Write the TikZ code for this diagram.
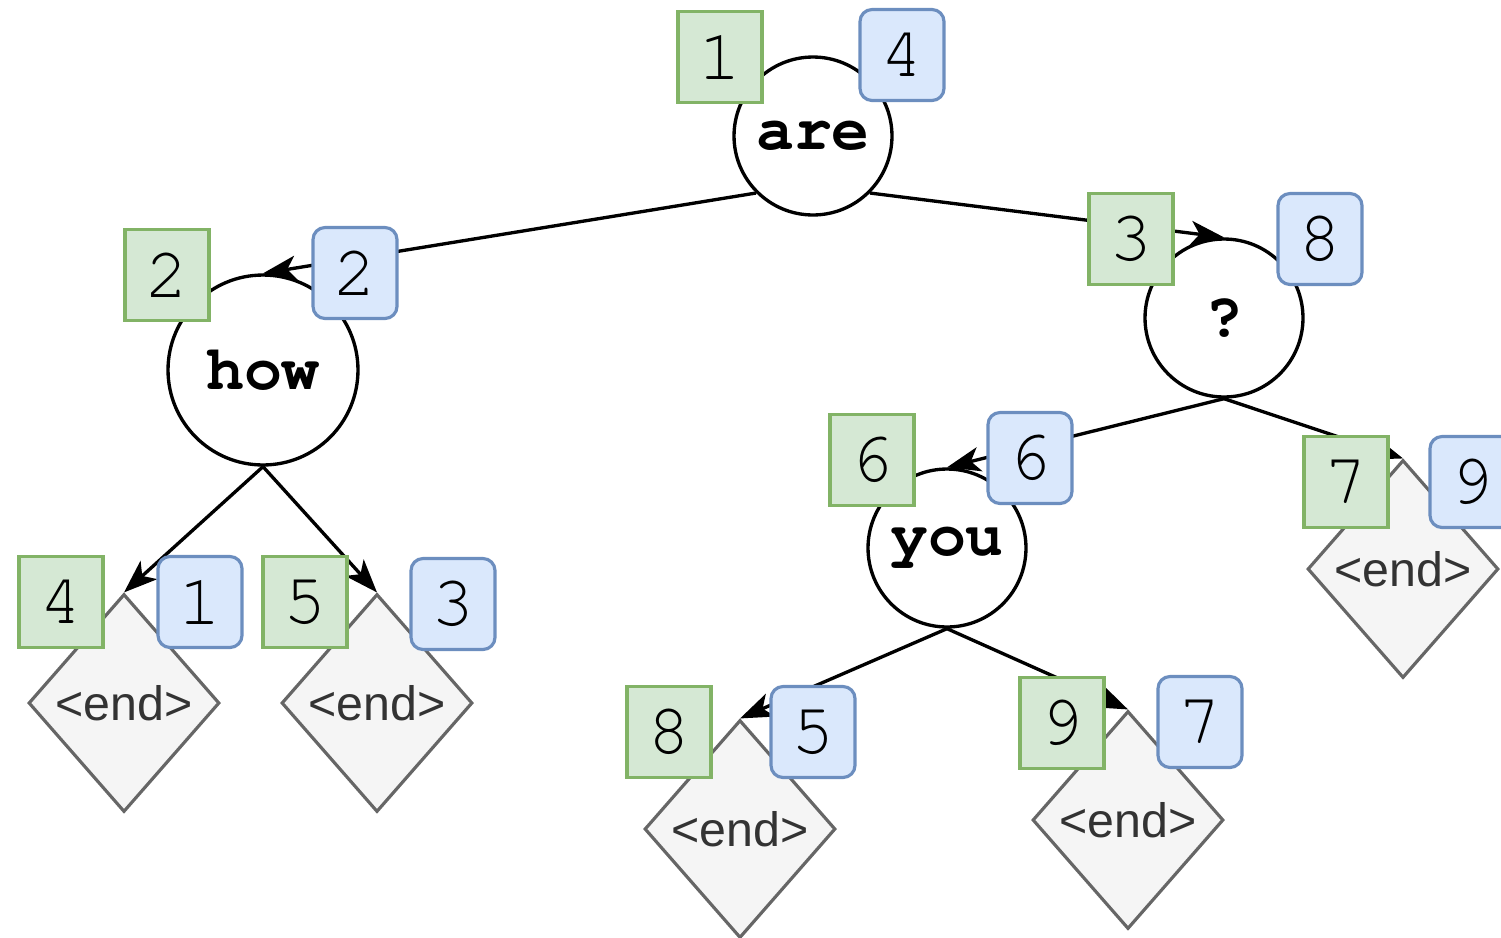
\documentclass[tikz,border=0pt]{standalone}
\usepackage{fontspec}
\setmainfont{Liberation Sans}
\newfontfamily\cursorfont{TeX Gyre Cursor}
\usetikzlibrary{shapes.geometric,arrows.meta}
\definecolor{gfill}{HTML}{D5E8D4}
\definecolor{gline}{HTML}{82B366}
\definecolor{bfill}{HTML}{DAE8FC}
\definecolor{bline}{HTML}{6C8EBF}
\definecolor{efill}{HTML}{F5F5F5}
\definecolor{eline}{HTML}{666666}
\definecolor{etext}{HTML}{333333}
\begin{document}
\begin{tikzpicture}[x=0.02cm,y=-0.02cm,
 word/.style={circle,draw=black,line width=1.9pt,fill=white,inner sep=0pt,font=\cursorfont\bfseries\fontsize{36}{36}\selectfont},
 endnode/.style={diamond,draw=eline,fill=efill,line width=1.8pt,inner sep=0pt,minimum width=3.82cm,minimum height=4.36cm,text=etext,font=\fontsize{27.5}{27.5}\selectfont},
 gbox/.style={rectangle,draw=gline,fill=gfill,line width=1.8pt,minimum width=1.68cm,minimum height=1.82cm,inner sep=0pt,font=\cursorfont\fontsize{41}{41}\selectfont},
 bbox/.style={gbox,draw=bline,fill=bfill,rounded corners=0.24cm},
 conn/.style={draw=black,line width=1.9pt,-{Stealth[length=19pt,width=14pt,inset=5pt]}}
]
\useasboundingbox (0,0) rectangle (1501,937);
% word nodes
\node[word,minimum size=3.16cm] (are) at (813,136) {are};
\node[word,minimum size=3.8cm] (how) at (263,370) {how};
\node[word,minimum size=3.16cm] (q) at (1224,318) {?};
\node[word,minimum size=3.16cm] (you) at (947,548) {you};
% end nodes
\node[endnode] (e1) at (124,703) {<end>};
\node[endnode] (e2) at (377,703) {<end>};
\node[endnode] (e3) at (1403,569) {<end>};
\node[endnode] (e4) at (740,829) {<end>};
\node[endnode] (e5) at (1128,820) {<end>};
% connectors
\draw[conn] (are.south west) -- (how.north);
\draw[conn] (are.south east) -- (q.north);
\draw[conn] (how.south) -- (e1.north);
\draw[conn] (how.south) -- (e2.north);
\draw[conn] (q.south) -- (you.north);
\draw[conn] (q.south) -- (e3.north);
\draw[conn] (you.south) -- (e4.north);
\draw[conn] (you.south) -- (e5.north);
% index boxes
\node[gbox] (g1) at (720,57) {1};
\node[bbox] (b4) at (902,55) {4};
\node[gbox] (g2) at (167,275) {2};
\node[bbox] (b2) at (355,273) {2};
\node[gbox] (g3) at (1131,239) {3};
\node[bbox] (b8) at (1320,239) {8};
\node[gbox] (g6) at (872,460) {6};
\node[bbox] (b6) at (1030,458) {6};
\node[gbox] (g7) at (1346,482) {7};
\node[bbox] (b9) at (1472,482) {9};
\node[gbox] (g4) at (61,602) {4};
\node[bbox] (b1) at (200,602) {1};
\node[gbox] (g5) at (305,602) {5};
\node[bbox] (b3) at (453,604) {3};
\node[gbox] (g8) at (669,732) {8};
\node[bbox] (b5) at (813,732) {5};
\node[gbox] (g9) at (1062,723) {9};
\node[bbox] (b7) at (1200,722) {7};
\end{tikzpicture}
\end{document}
